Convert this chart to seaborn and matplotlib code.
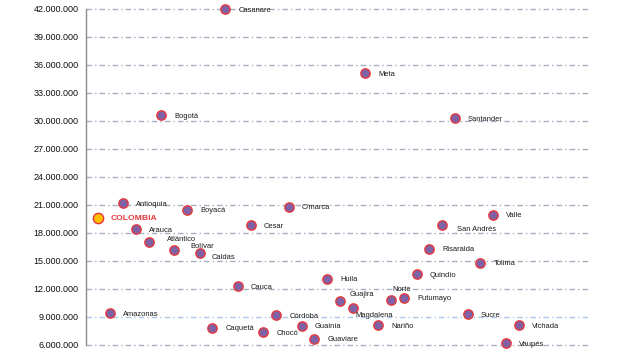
import matplotlib
matplotlib.use("Agg")
import matplotlib.pyplot as plt
import seaborn as sns
import pandas as pd
from matplotlib.ticker import FuncFormatter

# Data
departments = ["Amazonas", "Antioquia", "Arauca", "Atlántico", "Bogotá", "Bolívar",
               "Boyacá", "Caldas", "Caquetá", "Casanare", "Cauca", "Cesar", "Chocó",
               "Córdoba", "C/marca", "Guainía", "Guaviare", "Huila", "Guajira",
               "Magdalena", "Meta", "Nariño", "Norte", "Putumayo", "Quindío",
               "Risaralda", "San Andrés", "Santander", "Sucre", "Tolima", "Valle",
               "Vaupés", "Vichada"]
values = [9.40, 21.20, 18.40, 17.00, 30.64, 16.14, 20.50, 15.82, 7.86, 42.00,
          12.32, 18.86, 7.36, 9.21, 20.82, 8.04, 6.68, 13.10, 10.68, 10.00,
          35.10, 8.14, 10.80, 11.07, 13.60, 16.32, 18.86, 30.29, 9.29, 14.79,
          19.96, 6.18, 8.14]
colombia_label = "COLOMBIA"
colombia_value = 19.57
yticks = [6, 9, 12, 15, 18, 21, 24, 27, 30, 33, 36, 39, 42]

# label offsets in points (dx, dy) - most labels sit right of the dot
label_offsets = {"Atlántico": (13, 2), "Bolívar": (12, 3), "Caldas": (9, -3),
                 "Guajira": (7, 5), "Magdalena": (2, -6), "Norte": (1, 7.5),
                 "San Andrés": (11, -3)}

df = pd.DataFrame({"pos": range(1, len(departments) + 1),
                   "dept": departments,
                   "value": [v * 1e6 for v in values]})

sns.set_style("white")
plt.rcParams["font.family"] = ["Liberation Sans", "DejaVu Sans"]

fig = plt.figure(figsize=(6.4, 3.6), dpi=100)
ax = fig.add_axes([0.134, 0.042, 0.788, 0.933])

sns.scatterplot(data=df, x="pos", y="value", ax=ax, s=45, color="#7f62a6",
                edgecolor="#e8383d", linewidth=1.0, clip_on=False, zorder=3)
ax.scatter([0], [colombia_value * 1e6], s=55, color="#ffc000",
           edgecolor="#e8383d", linewidth=1.0, clip_on=False, zorder=3)

for _, row in df.iterrows():
    dx, dy = label_offsets.get(row["dept"], (9.5, -0.8))
    ax.annotate(row["dept"], (row["pos"], row["value"]), xytext=(dx, dy),
                textcoords="offset points", fontsize=5.4, va="center",
                ha="left", color="#1a1a1a")
ax.annotate(colombia_label, (0, colombia_value * 1e6), xytext=(9.5, -0.5),
            textcoords="offset points", fontsize=6.1, fontweight="bold",
            va="center", ha="left", color="#e8383d")

ax.set_xlim(-0.92, 38.6)
ax.set_ylim(6e6, 42e6)
ax.set_yticks([t * 1e6 for t in yticks])
ax.yaxis.set_major_formatter(FuncFormatter(lambda v, p: f"{int(round(v)):,}".replace(",", ".")))
ax.set_xticks([])
ax.set_xlabel("")
ax.set_ylabel("")
ax.tick_params(axis="y", labelsize=6.5, length=3, color="#a4b0bf", pad=2,
               labelcolor="#111111")

ax.yaxis.grid(True, color="#a4b0bf", linewidth=1.0, linestyle=(0, (4, 2.2, 1, 2.2)))
for gl in ax.get_ygridlines():
    gl.set_clip_on(False)
ax.get_ygridlines()[1].set_color("#a9c8ea")
ax.set_axisbelow(True)

for side in ["top", "right", "bottom"]:
    ax.spines[side].set_visible(False)
ax.spines["left"].set_color("#8c8c8c")
ax.spines["left"].set_linewidth(1.0)

fig.savefig("out.png", dpi=100)
